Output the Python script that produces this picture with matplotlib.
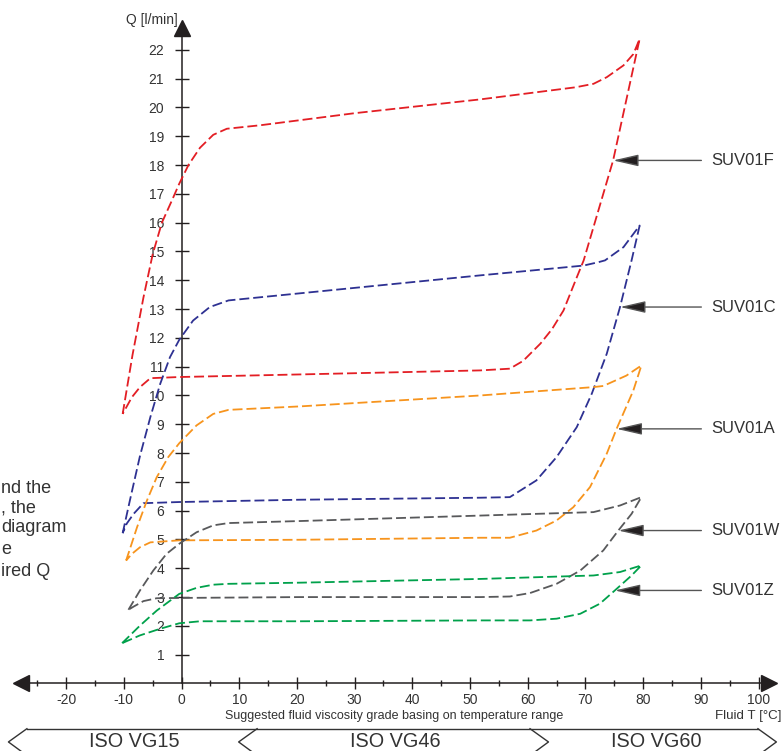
import matplotlib
matplotlib.use("Agg")
import matplotlib.pyplot as plt

plt.rcParams['font.family'] = ['Liberation Sans', 'DejaVu Sans']

# ---------------- data ----------------
series_names = ["SUV01F", "SUV01C", "SUV01A", "SUV01W", "SUV01Z"]
series_colors = ["#E31E24", "#2E3192", "#F7941D", "#58595B", "#00A14B"]

# each loop: upper branch left->right, then lower branch right->left
f_x = [-10.2, -8.5, -6.6, -5.0, -3.4, -1.6, -0.4, 1.2, 3.2, 5.5, 7.85, 13.6, 30, 51.8, 68.3, 71.4, 73.7, 76.6, 78.3, 79.4,
       74.8, 69.7, 68.5, 66.2, 64.2, 62.2, 59.2, 56.9, 51.8, 20.5, -0.4, -5.4, -7.2, -8.6, -10.2]
f_y = [9.36, 11.4, 13.4, 14.9, 16.0, 16.8, 17.35, 18.0, 18.6, 19.05, 19.26, 19.38, 19.8, 20.28, 20.7, 20.82, 21.05, 21.46, 21.85, 22.38,
       18.16, 14.69, 14.1, 12.95, 12.3, 11.8, 11.2, 10.93, 10.87, 10.73, 10.64, 10.6, 10.29, 9.94, 9.36]

c_x = [-10.2, -8.9, -7.2, -5.4, -3.7, -2.0, -0.4, 2.0, 4.9, 8.15, 51.8, 69.7, 72.3, 73.4, 76.6, 79.4,
       78.0, 76.0, 73.7, 71.1, 68.5, 65.0, 61.5, 56.9, 51.8, 20.5, -0.4, -6.6, -8.3, -9.5, -10.2]
c_y = [5.22, 6.4, 7.9, 9.25, 10.4, 11.33, 11.93, 12.6, 13.07, 13.3, 14.17, 14.51, 14.63, 14.69, 15.15, 15.9,
       14.69, 13.07, 11.45, 10.06, 8.9, 7.86, 7.05, 6.47, 6.45, 6.38, 6.3, 6.26, 5.89, 5.55, 5.22]

a_x = [-9.6, -7.7, -6.0, -4.3, -2.3, -0.4, 2.6, 5.5, 8.15, 20.5, 51.8, 71.4, 73.1, 77.1, 79.7,
       78.3, 75.4, 73.7, 70.8, 67.9, 65.0, 61.5, 56.9, 51.8, 20.5, -0.4, -5.4, -7.2, -8.6, -9.6]
a_y = [4.27, 5.43, 6.35, 7.16, 7.86, 8.34, 8.96, 9.36, 9.5, 9.62, 10.0, 10.29, 10.33, 10.69, 11.04,
       10.17, 8.84, 7.98, 6.82, 6.12, 5.66, 5.31, 5.06, 5.06, 4.99, 4.97, 4.9, 4.73, 4.5, 4.27]

w_x = [-9.2, -7.2, -4.9, -2.6, -0.4, 2.6, 5.5, 8.15, 20.5, 51.8, 71.4, 76.0, 79.7,
       78.0, 75.7, 73.1, 69.1, 65.0, 60.4, 56.9, 51.8, 20.5, -0.4, -4.3, -6.6, -8.3, -9.2]
w_y = [2.56, 3.23, 3.92, 4.5, 4.85, 5.25, 5.49, 5.57, 5.64, 5.83, 5.95, 6.18, 6.47,
       5.89, 5.31, 4.62, 3.92, 3.46, 3.14, 3.02, 3.0, 3.0, 2.97, 2.96, 2.86, 2.67, 2.56]

z_x = [-10.3, -7.2, -4.3, -0.4, 2.6, 5.5, 8.15, 20.5, 51.8, 71.4, 76.0, 79.7,
       78.0, 75.1, 72.5, 69.1, 65.0, 60.4, 51.8, 20.5, 3.2, -0.4, -3.7, -7.2, -10.3]
z_y = [1.4, 2.01, 2.53, 3.11, 3.32, 3.43, 3.46, 3.5, 3.63, 3.75, 3.87, 4.1,
       3.75, 3.23, 2.77, 2.42, 2.25, 2.19, 2.19, 2.16, 2.16, 2.09, 1.9, 1.67, 1.4]

loops_x = [f_x, c_x, a_x, w_x, z_x]
loops_y = [f_y, c_y, a_y, w_y, z_y]

# label arrow targets (points on the lower branches)
label_x = [74.8, 76.0, 75.4, 75.7, 75.1]
label_y = [18.16, 13.07, 8.84, 5.31, 3.23]

x_major = list(range(-20, 101, 10))
x_minor = list(range(-25, 100, 10))
y_ticks = list(range(1, 23))

bands = ["ISO VG15", "ISO VG46", "ISO VG60"]
band_start = [-26.8, 13.1, 60.4]
band_end = [13.1, 60.4, 99.9]
band_left_arrow = [True, True, False]
band_right_arrow = [False, True, True]
band_label_x = [-8.2, 37.0, 82.2]

left_text = ["nd the", ", the", "diagram", "e", "ired Q"]

# ---------------- figure ----------------
W, H = 782, 751
fig = plt.figure(figsize=(W / 100, H / 100), dpi=100)
ax = fig.add_axes([0, 0, 1, 1])
ax.set_xlim(-31.46, 104.07)
ax.set_ylim(-2.344, 23.73)
ax.patch.set_alpha(0)

axis_col = "#231F20"
txt_col = "#333333"

for s in ["top", "right"]:
    ax.spines[s].set_visible(False)
ax.spines["left"].set_position(("data", 0))
ax.spines["bottom"].set_position(("data", 0))
ax.spines["left"].set_bounds(0, 22.6)
ax.spines["bottom"].set_bounds(-27.5, 100.5)
for s in ["left", "bottom"]:
    ax.spines[s].set_color(axis_col)
    ax.spines[s].set_linewidth(1.1)

ax.set_xticks(x_major)
ax.set_xticks(x_minor, minor=True)
ax.set_xticklabels([str(v) for v in x_major])
ax.set_yticks(y_ticks)
ax.set_yticklabels([str(v) for v in y_ticks])
ax.tick_params(axis="x", which="major", direction="inout", length=8.6, width=1.0,
               color=axis_col, labelsize=10, labelcolor=txt_col, pad=2.3)
ax.tick_params(axis="x", which="minor", direction="inout", length=5.0, width=1.0, color=axis_col)
ax.tick_params(axis="y", which="major", direction="inout", length=9.4, width=1.0,
               color=axis_col, labelsize=10, labelcolor=txt_col, pad=7.8)

# axis arrow heads
ax.plot([0], [22.76], marker="^", ms=11.5, color=axis_col, clip_on=False, zorder=5)
ax.plot([101.9], [0], marker=">", ms=12, color=axis_col, clip_on=False, zorder=5)
ax.plot([-27.75], [0], marker="<", ms=12, color=axis_col, clip_on=False, zorder=5)

# axis titles
ax.text(-0.6, 23.04, "Q [l/min]", ha="right", va="center", fontsize=10, color=txt_col)
ax.text(103.9, -1.13, "Fluid T [°C]", ha="right", va="center", fontsize=9.6, color=txt_col)
ax.text(36.8, -1.13, "Suggested fluid viscosity grade basing on temperature range",
        ha="center", va="center", fontsize=9, color=txt_col)

# curves
for xs, ys, col in zip(loops_x, loops_y, series_colors):
    ax.plot(xs, ys, color=col, lw=1.3, linestyle=(0, (5.5, 2.2)), zorder=3)

# labels with arrows
for name, lx, ly in zip(series_names, label_x, label_y):
    ax.annotate(name, xy=(lx, ly), xytext=(91.9, ly), ha="left", va="center",
                fontsize=12, color=txt_col,
                arrowprops=dict(arrowstyle="-|>,head_length=1.3,head_width=0.3",
                                facecolor="#231F20", edgecolor="#555555", lw=1.0,
                                shrinkA=5.5, shrinkB=0))

# viscosity bands
band_top = -1.57
band_tip = -2.03
band_bot = -2.5
dx = 3.2
ax.plot([band_start[0], band_end[-1]], [band_top, band_top], color=txt_col, lw=1.0, clip_on=False)
for name, s, e, la, ra, bx in zip(bands, band_start, band_end, band_left_arrow, band_right_arrow, band_label_x):
    if la:
        ax.plot([s, s - dx, s], [band_top, band_tip, band_bot], color=txt_col, lw=1.0, clip_on=False)
    if ra:
        ax.plot([e, e + dx, e], [band_top, band_tip, band_bot], color=txt_col, lw=1.0, clip_on=False)
    ax.text(bx, -2.22, name, ha="center", va="baseline", fontsize=14.3, color=txt_col)

# cut-off text on the left
for i, t in enumerate(left_text):
    ypx = [488, 508, 528, 550, 572][i]
    fig.text(0.0015, 1 - ypx / H, t, ha="left", va="center", fontsize=13, color=txt_col)

fig.savefig("out.png", dpi=100)
